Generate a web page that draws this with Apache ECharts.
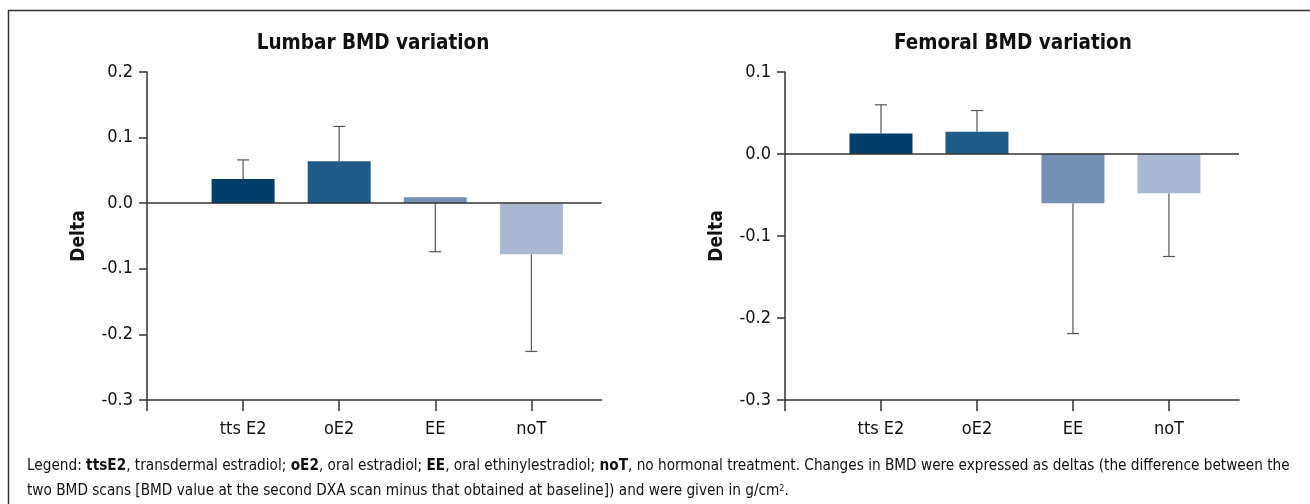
<!DOCTYPE html>
<html>
<head>
<meta charset="utf-8">
<script src="https://cdn.jsdelivr.net/npm/echarts@6/dist/echarts.min.js"></script>
<style>
html,body{margin:0;padding:0;background:#fff;}
#c{width:1310px;height:504px;}
</style>
</head>
<body>
<div id="c"></div>
<script>
// ---- data ----
var categories = ['tts E2', 'oE2', 'EE', 'noT'];
var barColors = ['#033f6d', '#1f5b88', '#7390b5', '#a9b9d4'];
var lumbarTitle = 'Lumbar BMD variation';
var femoralTitle = 'Femoral BMD variation';
var lumbarValues = [0.037, 0.064, 0.009, -0.078];
var lumbarErrorEnds = [0.066, 0.117, -0.074, -0.226];
var femoralValues = [0.025, 0.027, -0.060, -0.048];
var femoralErrorEnds = [0.060, 0.053, -0.219, -0.125];
var lumbarTicks = [-0.3, -0.2, -0.1, 0.0, 0.1, 0.2];
var femoralTicks = [-0.3, -0.2, -0.1, 0.0, 0.1];
var yAxisName = 'Delta';

var FONT = '"Liberation Sans Narrow", "Arial Narrow", "DejaVu Sans Condensed", sans-serif';
var chart = echarts.init(document.getElementById('c'));

function barData(vals) {
  return vals.map(function (v, i) {
    return { value: [i + 1, v], itemStyle: { color: barColors[i] } };
  });
}
function errData(vals, ends) {
  return vals.map(function (v, i) { return [i + 1, v, ends[i]]; });
}
function errRender(params, api) {
  var x = api.value(0), v = api.value(1), e = api.value(2);
  var p0 = api.coord([x, v]);
  var p1 = api.coord([x, e]);
  var style = { stroke: '#555', lineWidth: 1.2 };
  return {
    type: 'group',
    children: [
      { type: 'line', shape: { x1: p0[0], y1: p0[1], x2: p1[0], y2: p1[1] }, style: style },
      { type: 'line', shape: { x1: p1[0] - 6, y1: p1[1], x2: p1[0] + 6, y2: p1[1] }, style: style }
    ]
  };
}
function xAxisCfg(idx) {
  return {
    type: 'value', gridIndex: idx, min: 0, max: 4.73, interval: 1,
    splitLine: { show: false },
    axisLine: { show: true, onZero: false, lineStyle: { color: '#333', width: 1.5 } },
    axisTick: { show: true, length: 11, lineStyle: { color: '#333', width: 1.5 } },
    axisLabel: {
      margin: 20, color: '#111', fontSize: 18, fontFamily: FONT,
      showMaxLabel: false,
      formatter: function (v) { return categories[Math.round(v) - 1] || ''; }
    }
  };
}
function yAxisCfg(idx, ticks) {
  return {
    type: 'value', gridIndex: idx,
    min: ticks[0], max: ticks[ticks.length - 1], interval: 0.1,
    name: yAxisName, nameLocation: 'middle', nameGap: 58, nameRotate: 90,
    nameTextStyle: { fontSize: 19, fontWeight: 'bold', color: '#111', fontFamily: FONT },
    splitLine: { show: false },
    axisLine: { show: true, onZero: false, lineStyle: { color: '#333', width: 1.5 } },
    axisTick: { show: true, length: 8, lineStyle: { color: '#333', width: 1.5 } },
    axisLabel: {
      margin: 14, color: '#111', fontSize: 18, fontFamily: FONT,
      formatter: function (v) { return v.toFixed(1); }
    }
  };
}
function zeroLine() {
  return {
    silent: true, symbol: 'none', label: { show: false },
    lineStyle: { color: '#333', width: 1.5, type: 'solid' },
    data: [{ yAxis: 0 }]
  };
}
var titleStyle = { fontSize: 20.5, fontWeight: 'bold', color: '#111', fontFamily: FONT };

var option = {
  animation: false,
  backgroundColor: '#fff',
  title: [
    { text: lumbarTitle, left: 368, top: 28, textAlign: 'center', textStyle: titleStyle },
    { text: femoralTitle, left: 1008, top: 28, textAlign: 'center', textStyle: titleStyle }
  ],
  grid: [
    { left: 147, top: 72, width: 454.5, height: 328 },
    { left: 785, top: 72, width: 454, height: 328 }
  ],
  xAxis: [xAxisCfg(0), xAxisCfg(1)],
  yAxis: [yAxisCfg(0, lumbarTicks), yAxisCfg(1, femoralTicks)],
  series: [
    { type: 'bar', xAxisIndex: 0, yAxisIndex: 0, barWidth: 63, data: barData(lumbarValues), markLine: zeroLine() },
    { type: 'custom', xAxisIndex: 0, yAxisIndex: 0, renderItem: errRender, data: errData(lumbarValues, lumbarErrorEnds), z: 1 },
    { type: 'bar', xAxisIndex: 1, yAxisIndex: 1, barWidth: 63, data: barData(femoralValues), markLine: zeroLine() },
    { type: 'custom', xAxisIndex: 1, yAxisIndex: 1, renderItem: errRender, data: errData(femoralValues, femoralErrorEnds), z: 1 }
  ],
  graphic: [
    { type: 'polyline', shape: { points: [[8.5, 504], [8.5, 10.5], [1310, 10.5]] },
      style: { stroke: '#333', lineWidth: 1.5, fill: null }, silent: true },
    { type: 'text', left: 27, top: 459,
      style: {
        text: 'Legend: {b|ttsE2}, transdermal estradiol; {b|oE2}, oral estradiol; {b|EE}, oral ethinylestradiol; {b|noT}, no hormonal treatment. Changes in BMD were expressed as deltas (the difference between the',
        font: '15.2px ' + FONT, fill: '#111',
        rich: { b: { fontWeight: 'bold', fontSize: 15.2, fontFamily: FONT, fill: '#111' } }
      } },
    { type: 'text', left: 27, top: 484,
      style: {
        text: 'two BMD scans [BMD value at the second DXA scan minus that obtained at baseline]) and were given in g/cm{s|2}.',
        font: '15.2px ' + FONT, fill: '#111',
        rich: { s: { fontSize: 9, fontFamily: FONT, fill: '#111', verticalAlign: 'top', padding: [0, 0, 6, 0] } }
      } }
  ]
};
chart.setOption(option);
</script>
</body>
</html>
